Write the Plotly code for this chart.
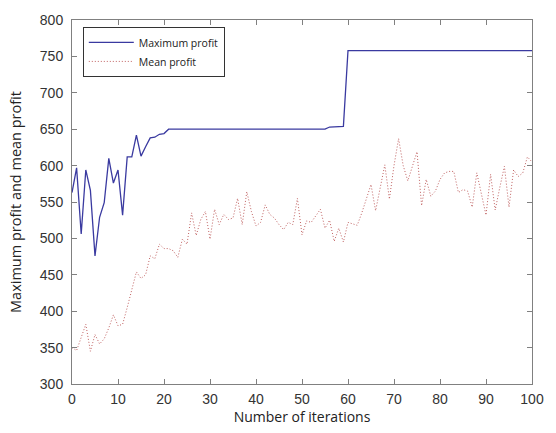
import plotly.graph_objects as go

iterations = list(range(0, 101))

max_profit = [
    563, 597, 506, 594, 566, 476, 529, 549, 610, 576,
    594, 532, 612, 612, 642, 613, 626, 638, 639, 643,
    644, 650, 650, 650, 650, 650, 650, 650, 650, 650,
    650, 650, 650, 650, 650, 650, 650, 650, 650, 650,
    650, 650, 650, 650, 650, 650, 650, 650, 650, 650,
    650, 650, 650, 650, 650, 650, 653, 653, 653, 654,
    758, 758, 758, 758, 758, 758, 758, 758, 758, 758,
    758, 758, 758, 758, 758, 758, 758, 758, 758, 758,
    758, 758, 758, 758, 758, 758, 758, 758, 758, 758,
    758, 758, 758, 758, 758, 758, 758, 758, 758, 758,
    758,
]

mean_profit = [
    350, 346, 364, 382, 345, 368, 355, 362, 377, 395,
    380, 382, 405, 431, 454, 445, 450, 476, 472, 492,
    486, 486, 483, 474, 499, 492, 535, 504, 526, 537,
    499, 540, 519, 533, 526, 528, 555, 519, 564, 537,
    517, 522, 546, 533, 528, 519, 512, 522, 519, 555,
    505, 524, 522, 531, 540, 514, 525, 496, 514, 495,
    522, 520, 518, 535, 555, 574, 538, 570, 601, 554,
    600, 637, 600, 579, 600, 619, 545, 581, 558, 565,
    581, 590, 592, 592, 563, 567, 565, 543, 590, 560,
    532, 588, 539, 570, 599, 543, 594, 585, 590, 612,
    605,
]

x_ticks = [0, 10, 20, 30, 40, 50, 60, 70, 80, 90, 100]
y_ticks = [300, 350, 400, 450, 500, 550, 600, 650, 700, 750, 800]

fig = go.Figure()
fig.add_trace(go.Scatter(
    x=iterations, y=max_profit, mode="lines", name="Maximum profit",
    line=dict(color="#3a3aa0", width=1.3),
))
fig.add_trace(go.Scatter(
    x=iterations, y=mean_profit, mode="lines", name="Mean profit",
    line=dict(color="#c06060", width=1, dash="1px,2px"),
))

axis_common = dict(
    showgrid=False, zeroline=False, showline=True, linecolor="#808080",
    linewidth=1, mirror="allticks", ticks="inside", ticklen=5,
    tickcolor="#808080", tickfont=dict(family="Liberation Sans", size=14, color="#333333"),
)

fig.update_layout(
    width=556, height=433,
    margin=dict(l=72, r=16, t=16, b=49),
    paper_bgcolor="white", plot_bgcolor="white",
    showlegend=True,
    legend=dict(
        x=0.0235, y=0.981, xanchor="left", yanchor="top",
        bgcolor="white", bordercolor="#333333", borderwidth=1,
        font=dict(family="Open Sans", size=10.5, color="#222222"),
        tracegroupgap=0, itemwidth=45,
    ),
    xaxis=dict(
        range=[0, 100], tickvals=x_ticks, ticklabelstandoff=2,
        title=dict(text="Number of iterations", standoff=2,
                   font=dict(family="Open Sans", size=14, color="#222222")),
        **axis_common,
    ),
    yaxis=dict(
        range=[300, 800], tickvals=y_ticks, ticklabelstandoff=5,
        title=dict(text="Maximum profit and mean profit", standoff=14,
                   font=dict(family="Open Sans", size=14.5, color="#222222")),
        **axis_common,
    ),
)

fig.write_html("out.html")
